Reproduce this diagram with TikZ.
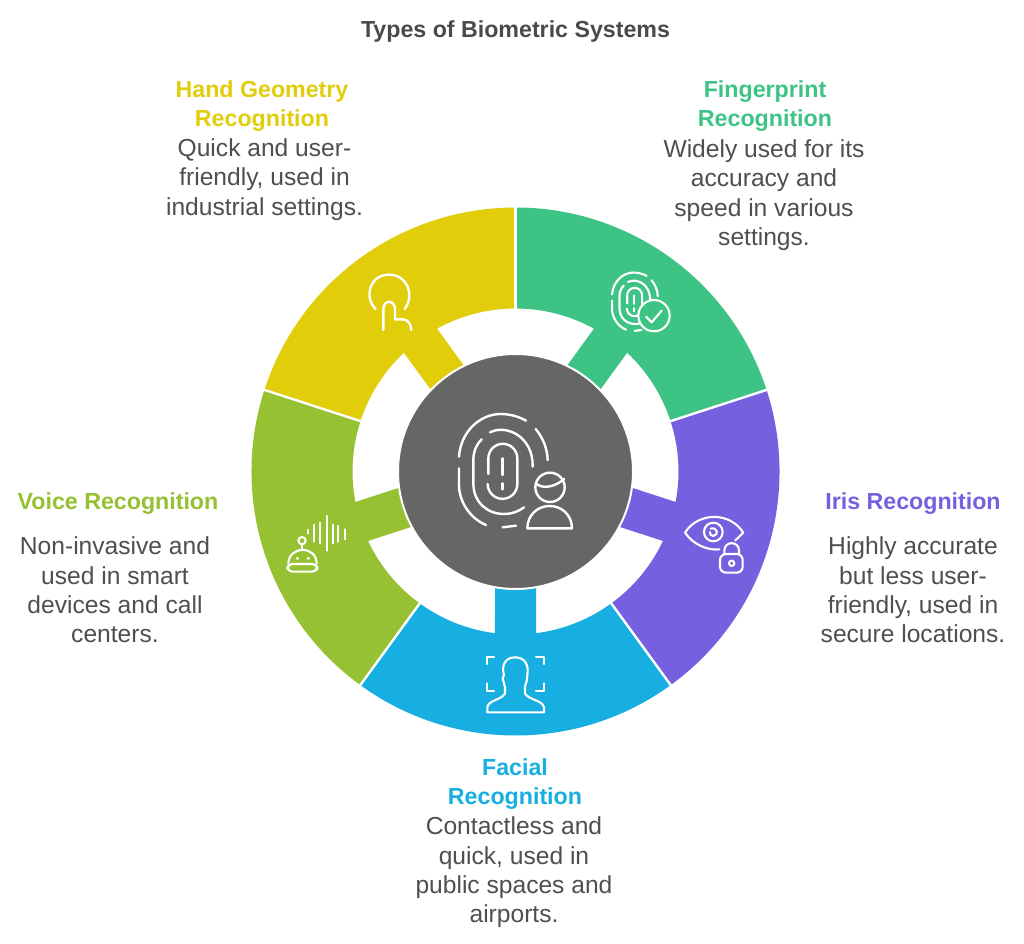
\documentclass[tikz,border=0pt]{standalone}
\usepackage{fontspec}
\setmainfont{Liberation Sans}
\definecolor{inktext}{HTML}{4F4F4F}
\definecolor{titletext}{HTML}{4A4A4A}
\definecolor{cyellow}{HTML}{E2CD0B}
\definecolor{cgreen}{HTML}{3DC485}
\definecolor{cpurple}{HTML}{7660E0}
\definecolor{cblue}{HTML}{17AEE2}
\definecolor{clime}{HTML}{95C132}
\definecolor{chub}{HTML}{666666}
\newcommand\bodyfont{\fontsize{24.6}{29.4}\selectfont}
\newcommand\headfont{\fontsize{23.2}{29.4}\selectfont\bfseries}
\newcommand\sectorshape[2]{%
  \begin{scope}[rotate=#1]
    \fill[#2] (-36:264) arc[start angle=-36,end angle=36,radius=264]
      -- (36:163) arc[start angle=36,end angle=7.23,radius=163]
      -- (100,20.5) -- (100,-20.5) -- (-7.23:163)
      arc[start angle=-7.23,end angle=-36,radius=163] -- cycle;
  \end{scope}}
\newcommand\sepline[1]{\draw[white,line width=2.4pt] (#1:161) -- (#1:267);}
\newcommand\printpaths{%
  \draw (57,170) .. controls (62,95) and (120,42) .. (182,42) .. controls (210,42) and (237,50) .. (258,62);
  \draw (57,205) -- (57,255) .. controls (57,305) and (90,355) .. (138,375);
  \draw (188,382) -- (228,377);
  \draw (287,87) .. controls (308,112) and (322,145) .. (323,180);
  \draw (125,118) .. controls (108,135) and (100,155) .. (100,180) -- (100,250) .. controls (100,305) and (140,342) .. (192,342) .. controls (215,342) and (235,335) .. (252,322);
  \draw (150,97) .. controls (200,72) and (280,110) .. (278,200);
  \draw (145,222) -- (145,175) arc[start angle=180,end angle=360,radius=43.5] -- (232,252) arc[start angle=0,end angle=180,radius=44.5];
  \draw (187,175) -- (187,225);
  \draw (187,250) -- (187,268);}
\tikzset{
  iconline/.style={white,line width=2.4pt,line cap=round,line join=round},
  thinline/.style={white,line width=2.1pt,line cap=round,line join=round},
  bodytext/.style={text=inktext,font=\bodyfont,align=center,inner sep=0pt},
  headtext/.style={font=\headfont,align=center,inner sep=0pt},
}
\begin{document}
\begin{tikzpicture}[x=1pt,y=1pt]
\useasboundingbox (0,0) rectangle (1024,943);
\fill[white] (0,0) rectangle (1024,943);
\begin{scope}[shift={(515.5,471.5)}]
  \sectorshape{54}{cgreen}
  \sectorshape{-18}{cpurple}
  \sectorshape{-90}{cblue}
  \sectorshape{198}{clime}
  \sectorshape{126}{cyellow}
  \sepline{90}\sepline{18}\sepline{-54}\sepline{234}\sepline{162}
  \node[circle,fill=chub,draw=white,line width=2pt,minimum size=235pt,inner sep=0pt] (hub) at (0,0) {};
\end{scope}

% hub icon
\begin{scope}[shift={(440,543)},x=1/3pt,y=-1/3pt,iconline]
  \printpaths
  \draw (330,262) circle[radius=44];
  \draw (288,250) .. controls (305,268) and (345,262) .. (372,237);
  \draw (262,385) -- (396,385) .. controls (396,345) and (365,318) .. (329,318) .. controls (293,318) and (262,345) .. (262,385) -- cycle;
\end{scope}

% fingerprint icon
\begin{scope}[shift={(602.3,677.7)},x=.515/3*1pt,y=-.515/3*1pt,thinline]
  \printpaths
\end{scope}
\begin{scope}[shift={(515,743)},x=1/3pt,y=-1/3pt,thinline]
  \filldraw[fill=cgreen] (417,347) circle[radius=47];
  \draw (393,350) -- (410,367) -- (440,332);
\end{scope}

% hand icon
\begin{scope}[shift={(250,743)},x=1/3pt,y=-1/3pt,iconline]
  \draw (377,327) .. controls (340,290) and (360,224) .. (417,224) .. controls (472,224) and (495,285) .. (464,327);
  \draw (400,390) -- (400,328) .. controls (400,298) and (435,298) .. (435,328) -- (435,358) -- (458,358) .. controls (473,358) and (483,372) .. (484,390);
\end{scope}

% voice icon
\begin{scope}[shift={(280,433)},x=1/3pt,y=-1/3pt,thinline]
  \draw (66,92) circle[radius=11];
  \draw (66,103) -- (66,120);
  \draw (25,162) .. controls (25,135) and (45,120) .. (68,120) .. controls (92,120) and (110,135) .. (110,162);
  \draw[rounded corners=5pt] (22,162) rectangle (112,185);
  \fill[white] (52,145) circle[radius=5] (85,145) circle[radius=5];
  \draw (85,60) -- (85,70);
  \draw (103,45) -- (103,95);
  \draw (120,38) -- (120,100);
  \draw (140,18) -- (140,122);
  \draw (158,45) -- (158,100);
  \draw (175,48) -- (175,95);
  \draw (195,58) -- (195,88);
\end{scope}

% face icon
\begin{scope}[shift={(480,293)},x=1/3pt,y=-1/3pt,thinline]
  \draw (20,42) -- (20,20) -- (42,20);
  \draw (168,20) -- (192,20) -- (192,42);
  \draw (20,100) -- (20,122) -- (42,122);
  \draw (168,122) -- (192,122) -- (192,100);
  \draw (22,187) -- (22,172) .. controls (25,150) and (65,150) .. (75,130) -- (75,112) -- (68,85) -- (72,75) .. controls (65,55) and (70,22) .. (105,22) .. controls (135,22) and (147,45) .. (142,75) .. controls (142,90) and (138,100) .. (135,110) -- (135,130) .. controls (145,150) and (188,150) .. (192,172) -- (192,187) -- cycle;
\end{scope}

% iris icon
\begin{scope}[shift={(680,433)},x=1/3pt,y=-1/3pt,thinline]
  \draw (165,92) -- (190,68) .. controls (150,5) and (55,5) .. (15,68) .. controls (40,105) and (85,122) .. (118,118);
  \draw (100,66) circle[radius=28];
  \draw (92,56) .. controls (112,50) and (118,75) .. (100,78) .. controls (92,78) and (88,72) .. (90,66);
  \draw[rounded corners=6pt] (120,132) rectangle (188,188);
  \draw (133,132) -- (133,122) .. controls (133,92) and (177,92) .. (177,122) -- (177,132);
  \draw (155,160) circle[radius=8];
\end{scope}

% texts
\node[text=titletext,font=\headfont,inner sep=0pt] (title) at (515.5,911) {Types of Biometric Systems};
\node[headtext,text=cyellow] (handhead) at (262,837) {Hand Geometry\\Recognition};
\node[bodytext] (handbody) at (264.5,763.5) {Quick and user-\\friendly, used in\\industrial settings.};
\node[headtext,text=cgreen] (fphead) at (765,837) {Fingerprint\\Recognition};
\node[bodytext] (fpbody) at (764,748) {Widely used for its\\accuracy and\\speed in various\\settings.};
\node[headtext,text=clime] (voicehead) at (118,439.5) {Voice Recognition};
\node[bodytext] (voicebody) at (115,353) {Non-invasive and\\used in smart\\devices and call\\centers.};
\node[headtext,text=cpurple] (irishead) at (913,439.5) {Iris Recognition};
\node[bodytext] (irisbody) at (913,353) {Highly accurate\\but less user-\\friendly, used in\\secure locations.};
\node[headtext,text=cblue] (facehead) at (515,159) {Facial\\Recognition};
\node[bodytext] (facebody) at (514,70.5) {Contactless and\\quick, used in\\public spaces and\\airports.};
\end{tikzpicture}
\end{document}
